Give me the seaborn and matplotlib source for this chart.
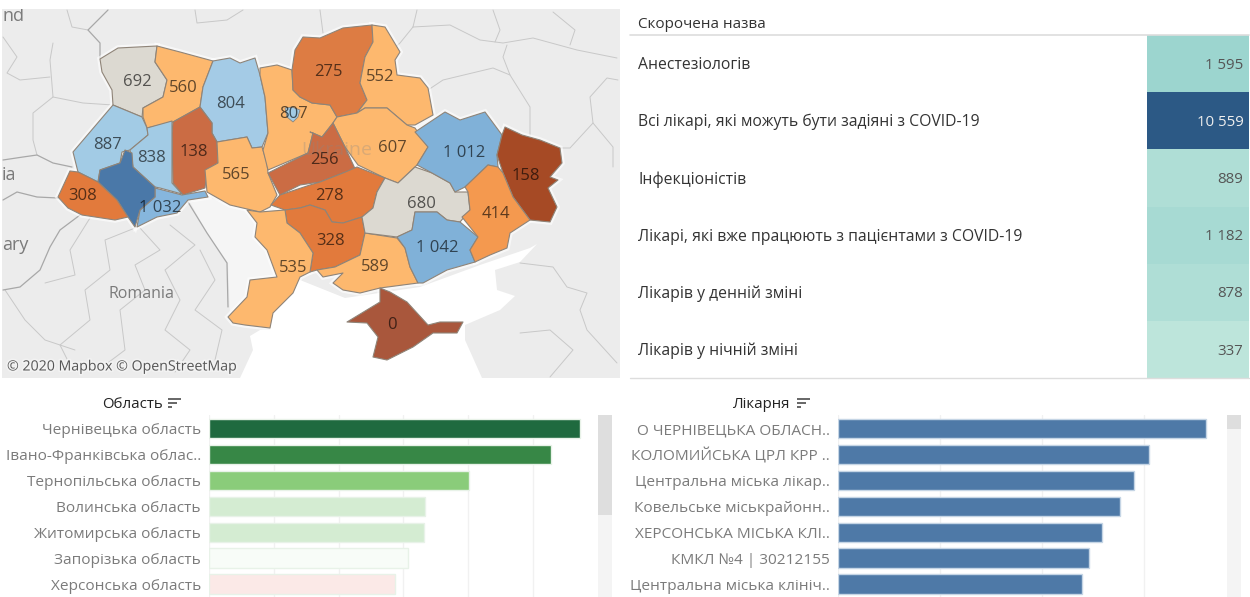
import matplotlib
matplotlib.use("Agg")
import matplotlib.pyplot as plt
import matplotlib.patheffects as pe
from matplotlib.colors import LinearSegmentedColormap
from matplotlib.patches import Polygon, Rectangle
from matplotlib.ticker import MultipleLocator, NullFormatter
import pandas as pd
import seaborn as sns

W, H = 1250, 597
FONT = ["Open Sans", "DejaVu Sans"]

# ---------- data ----------
table_names = ["Анестезіологів", "Всі лікарі, які можуть бути задіяні з COVID-19", "Інфекціоністів",
               "Лікарі, які вже працюють з пацієнтами з COVID-19", "Лікарів у денній зміні", "Лікарів у нічній зміні"]
table_values = [1595, 10559, 889, 1182, 878, 337]

oblast_names = ["Чернівецька область", "Івано-Франківська облас..", "Тернопільська область", "Волинська область",
                "Житомирська область", "Запорізька область", "Херсонська область"]
oblast_values = [5.73, 5.28, 4.02, 3.34, 3.32, 3.07, 2.87]

hospital_names = ["О ЧЕРНІВЕЦЬКА ОБЛАСН..", "КОЛОМИЙСЬКА ЦРЛ КРР ..", "Центральна міська лікар..", "Ковельське міськрайонн..",
                  "ХЕРСОНСЬКА МІСЬКА КЛІ..", "КМКЛ №4 | 30212155", "Центральна міська клініч.."]
hospital_values = [3.61, 3.05, 2.90, 2.76, 2.59, 2.46, 2.39]

map_labels = ["692", "560", "804", "807", "887", "838", "138", "565", "308", "1 032", "275", "552",
              "607", "1 012", "256", "158", "278", "680", "414", "328", "1 042", "535", "589", "0"]

# ---------- styles and geography (image pixel space) ----------
oblast_colours = ["#1f6a3f", "#378746", "#8acc7a", "#d4ecd2", "#d4ecd2", "#f8fcf8", "#fbe9e7"]
table_cmap = LinearSegmentedColormap.from_list(
    "tbl", [(0, "#bde5db"), (0.123, "#9cd5cf"), (1, "#2c5985")])

REGIONS = [
    ("#dcd9d1", "692", (137, 82), [(100,59),(118,48),(157,46),(155,62),(167,80),(163,97),(143,108),(142,117),(113,105),(112,90),(102,72)]),
    ("#fdb86e", "560", (183, 88), [(157,46),(180,52),(213,61),(203,87),(200,107),(173,122),(147,128),(143,117),(143,108),(163,97),(167,80),(155,62)]),
    ("#a4cbe6", "804", (231, 104), [(213,61),(230,58),(240,63),(255,58),(260,75),(265,97),(268,133),(262,147),(252,148),(247,137),(217,142),(212,133),(212,123),(200,107),(203,87)]),
    ("#cb6c44", "138", (194, 152), [(200,107),(212,123),(212,133),(217,142),(218,163),(207,170),(205,188),(183,195),(173,183),(172,133),(173,122)]),
    ("#a2cbe5", "887", (107, 145), [(113,105),(142,117),(147,128),(148,135),(130,150),(122,152),(120,163),(100,170),(98,182),(78,172),(73,152),(90,132)]),
    ("#a2cbe5", "838", (152, 158), [(148,135),(147,128),(172,121),(172,183),(182,194),(160,188),(155,187),(133,167),(130,150)]),
    ("#86b6dd", "1 032", (160, 208), [(155,188),(182,195),(205,191),(208,197),(188,200),(177,213),(157,217),(137,227),(140,210),(155,197)]),
    ("#4a78a8", None, None, [(125,150),(132,153),(133,167),(155,187),(155,197),(140,210),(135,227),(128,217),(117,200),(98,182),(100,170),(120,163)]),
    ("#e27a3c", "308", (83, 196), [(70,171),(78,172),(98,182),(117,200),(128,217),(115,220),(82,215),(68,208),(58,197)]),
    ("#fdb86e", "565", (236, 175), [(217,142),(247,137),(252,148),(262,147),(267,163),(268,173),(277,195),(270,207),(260,212),(230,205),(207,192),(205,170),(218,163)]),
    ("#fdb86e", "807", (294, 114), [(260,68),(277,65),(292,70),(293,90),(300,97),(312,103),(330,105),(337,117),(333,123),(322,137),(310,132),(313,133),(308,153),(268,170),(263,150),(268,133),(265,97),(260,75)]),
    ("#dd7c43", "275", (328, 72), [(303,37),(320,38),(343,28),(372,25),(373,42),(365,57),(360,83),(367,100),(357,113),(337,117),(330,105),(312,103),(300,97),(293,90),(292,70),(295,50)]),
    ("#fdb86e", "552", (380, 77), [(372,25),(385,27),(400,52),(395,60),(397,75),(420,78),(428,88),(433,115),(415,125),(407,125),(387,108),(365,108),(357,113),(367,100),(360,83),(365,57),(373,42)]),
    ("#fdb86e", "607", (392, 148), [(337,117),(357,113),(365,108),(387,108),(407,125),(415,128),(428,147),(417,165),(398,183),(385,178),(358,165),(345,147),(333,123)]),
    ("#cb6c44", "256", (324, 160), [(333,123),(345,147),(357,173),(343,173),(320,182),(300,185),(280,195),(268,173),(308,153),(313,133),(322,137)]),
    ("#e27a3c", "278", (329, 196), [(280,195),(310,185),(320,182),(343,173),(357,167),(385,178),(377,192),(373,208),(362,217),(343,223),(332,222),(325,210),(310,205),(300,208),(285,210),(271,205)]),
    ("#e27a3c", "328", (331, 241), [(285,210),(300,208),(310,205),(325,210),(332,222),(343,223),(362,217),(365,233),(360,255),(335,267),(317,270),(310,272),(313,253),(300,233),(287,223)]),
    ("#fdb86e", "535", (293, 268), [(247,210),(260,212),(285,210),(287,223),(300,233),(313,253),(310,272),(300,277),(293,293),(273,313),(270,328),(245,325),(233,323),(228,317),(247,297),(250,280),(277,277),(267,250),(255,237),(257,223)]),
    ("#fdb86e", "589", (375, 267), [(317,270),(335,267),(360,255),(365,233),(397,238),(405,248),(410,267),(418,283),(380,288),(360,293),(343,290),(333,283),(343,273),(323,277)]),
    ("#dcd9d1", "680", (421, 204), [(398,183),(415,167),(432,173),(450,183),(455,192),(468,192),(470,210),(460,222),(447,220),(437,212),(415,212),(412,230),(397,237),(365,233),(362,217),(373,208),(377,192),(385,178)]),
    ("#80b1d8", "1 042", (437, 248), [(397,237),(412,230),(415,212),(437,212),(447,220),(460,222),(478,237),(470,250),(475,262),(447,270),(423,283),(418,283),(410,267),(405,248)]),
    ("#80b1d8", "1 012", (464, 153), [(415,132),(445,112),(460,120),(485,112),(502,135),(497,155),(498,167),(488,165),(465,187),(455,192),(450,183),(432,173),(417,165),(428,147)]),
    ("#a64a25", "158", (526, 176), [(505,127),(522,135),(540,140),(560,148),(562,163),(550,177),(558,180),(548,188),(557,207),(550,222),(530,220),(513,197),(503,173),(497,155),(502,135)]),
    ("#f4994f", "414", (496, 214), [(488,165),(498,167),(503,173),(513,197),(530,220),(510,233),(507,248),(490,255),(475,262),(470,250),(478,237),(462,217),(470,210),(468,192),(465,187)]),
    ("#a9573c", "0", (392, 325), [(380,288),(390,292),(407,302),(428,325),(440,322),(463,322),(457,333),(433,333),(413,347),(387,360),(373,357),(378,337),(367,323),(347,322),(380,302)]),
]
KYIV_CITY = [(285,108),(292,107),(300,110),(298,117),(293,122),(287,117)]
SEA = [(250,336),(260,330),(270,330),(277,285),(300,280),(345,298),(420,287),(480,265),(530,248),(537,244),(520,262),(495,270),(497,290),(515,296),(500,310),(465,325),(465,340),(482,378),(240,378),(253,350)]
MOLDOVA = [(190,202),(208,197),(230,205),(247,210),(257,223),(255,237),(267,250),(277,277),(250,280),(247,297),(230,315),(228,263),(207,233)]
BORDERS_DARK = [
    [(108,10),(88,30),(100,43),(100,59)],
    [(3,160),(23,157),(37,155),(53,163),(72,167)],
    [(3,200),(17,192),(37,197),(58,198)],
    [(80,215),(60,230),(50,247),(40,270),(20,287),(3,290)],
    [(188,202),(207,233),(227,263),(228,307)],
]
BORDERS_LIGHT = [
    [(428,90),(443,80),(493,68),(510,75),(530,107),(530,135)],
    [(413,27),(400,43),(390,52)],
    [(413,27),(450,25),(480,40),(503,43),(533,38),(577,50),(617,58)],
    [(507,45),(503,57),(510,75)],
    [(560,148),(570,148),(593,123),(590,97),(607,78),(618,80)],
    [(67,10),(72,27),(88,30)],
    [(53,43),(50,60),(53,97),(33,113),(33,140),(37,155)],
    [(3,37),(17,57),(7,73),(20,80),(50,77)],
    [(53,97),(83,103),(113,105)],
    [(195,10),(197,23),(227,20),(243,10)],
    [(320,10),(323,33)],[(417,10),(413,27)],
    [(493,10),(500,30),(495,42)],[(553,12),(575,30),(570,45)],
    [(593,123),(613,147),(613,167)],
    [(520,263),(553,267),(567,287),(587,293),(580,310),(587,330),(617,363)],
    [(520,333),(550,330),(573,350),(550,377)],
    [(90,218),(70,250),(75,275),(45,283)],
    [(135,228),(105,240),(110,270),(85,290),(90,320),(60,345),(70,365)],
    [(140,228),(160,250),(135,265),(145,290),(120,310),(125,350),(105,365)],
    [(170,225),(195,245),(165,270),(180,300),(165,330),(190,350),(175,372)],
    [(200,250),(215,280),(195,310),(222,330),(215,360)],
    [(5,290),(25,320),(45,340),(75,350)],
]

# ---------- figure ----------
sns.set_theme(style="white")
plt.rcParams["font.family"] = FONT
fig = plt.figure(figsize=(W / 100, H / 100), dpi=100, facecolor="white")


def axes_px(x0, y0, x1, y1, **kw):
    return fig.add_axes([x0 / W, 1 - y1 / H, (x1 - x0) / W, (y1 - y0) / H], **kw)


# ---------- map ----------
mp = axes_px(2, 9, 620, 378)
mp.set_xlim(2, 620); mp.set_ylim(378, 9); mp.axis("off")
mp.add_patch(Rectangle((2, 9), 618, 369, fc="#ececec", ec="none", zorder=0))
mp.add_patch(Polygon(MOLDOVA, fc="#f5f5f5", ec="none", zorder=0.5))
mp.add_patch(Polygon(SEA, fc="white", ec="none", zorder=1))
for line in BORDERS_LIGHT:
    mp.plot(*zip(*line), color="#c8c8c8", lw=0.7, zorder=1.5)
for line in BORDERS_DARK:
    mp.plot(*zip(*line), color="#a8a8a8", lw=0.9, zorder=1.5)
for colour, label, pos, outline in REGIONS:
    mp.add_patch(Polygon(outline, fc="white", ec="white", lw=4, alpha=0.6, zorder=2))
for colour, label, pos, outline in REGIONS:
    mp.add_patch(Polygon(outline, fc=colour, ec="#8f8478", lw=0.8, joinstyle="round", zorder=3))
mp.add_patch(Polygon(KYIV_CITY, fc="#a2cbe5", ec="#8f8478", lw=0.6, zorder=3.5))
mp.text(337, 150, "Ukraine", color="#888888", alpha=0.3, fontsize=14, ha="center", va="center", zorder=3.6)
lookup = {r[1]: r[2] for r in REGIONS if r[1]}
for lab in map_labels:
    x, y = lookup[lab]
    mp.text(x, y, lab, color="black", alpha=0.62, fontsize=12, ha="center", va="center", zorder=4)
mp.text(141, 294, "Romania", color="#7a7a7a", fontsize=11.5, ha="center", va="center", zorder=2)
for x, y, s in [(2, 16, "nd"), (2, 175, "ia"), (2, 245, "ary")]:
    mp.text(x, y, s, color="#7a7a7a", fontsize=13, ha="left", va="center", zorder=2, clip_on=True)
mp.text(7, 367, "© 2020 Mapbox © OpenStreetMap", color="#555555", fontsize=10.2, ha="left", va="center", zorder=5,
        path_effects=[pe.withStroke(linewidth=2.5, foreground="#f2f2f2")])

# ---------- table ----------
hm = axes_px(1147, 35, 1249, 378)
table_df = pd.DataFrame({"v": table_values}, index=table_names)
cell_text = [[f"{v:,}".replace(",", " ")] for v in table_values]
sns.heatmap(table_df, ax=hm, cmap=table_cmap, cbar=False, annot=cell_text, fmt="",
            xticklabels=False, yticklabels=False, vmin=min(table_values), vmax=max(table_values))
hm.set_xlabel(""); hm.set_ylabel("")
for t, v in zip(hm.texts, table_values):
    t.set_ha("right"); t.set_x(0.945); t.set_y(t.get_position()[1] + 0.03); t.set_fontsize(10.8)
    t.set_color("#eeeeee" if v > 5000 else "#555555")

ov = axes_px(0, 0, W, H, facecolor="none")
ov.set_xlim(0, W); ov.set_ylim(H, 0); ov.axis("off")
ov.set_zorder(10)
ov.text(638, 25, "Скорочена назва", fontsize=11, color="#333333", va="center")
ov.plot([630, 1249], [34.5, 34.5], color="#dddddd", lw=1.2)
ov.plot([630, 1249], [378, 378], color="#dddddd", lw=1.0)
for i, name in enumerate(table_names):
    ov.text(638, 35 + 57.2 * (i + 0.5) + 1.5, name, fontsize=11.35, color="#333333", va="center")


# ---------- bars ----------
def bars(names, values, px_left, px_right, unit_px, palette, label_x, edge, header, hx):
    ax = axes_px(px_left, 415, px_right, 597)
    df = pd.DataFrame({"name": names, "value": values})
    sns.barplot(df, y="name", x="value", hue="name", palette=palette, legend=False, width=0.75, ax=ax, orient="y",
                linewidth=1, edgecolor=edge, saturation=1)
    ax.set_xlim(0, (px_right - px_left) / unit_px)
    ax.set_ylim(6.5, -0.53)
    ax.set_xlabel(""); ax.set_ylabel("")
    ax.xaxis.set_major_locator(MultipleLocator(1))
    ax.xaxis.set_major_formatter(NullFormatter())
    ax.grid(axis="x", color="#f1f1f1", lw=1)
    ax.set_axisbelow(True)
    ax.tick_params(left=False, bottom=False, length=0, pad=(px_left - label_x) * 0.72)
    for t in ax.get_yticklabels():
        t.set_fontsize(11.1); t.set_color("#7b7b7b")
    sns.despine(ax=ax, left=True, bottom=True, right=True, top=True)
    ov.text(hx, 404, header, fontsize=10.8, color="#222222", va="center", ha="left")
    return ax


a1 = bars(oblast_names, oblast_values, 209, 595, 64.8, oblast_colours, 201, "#e8f2e8", "Область", 102)
a2 = bars(hospital_names, hospital_values, 838, 1222, 102, ["#4e79a7"] * 7, 830, "#c5d5e5", "Лікарня", 733)

# sort icons and scrollbars
for ix in (168, 797):
    for dy, ln in [(0, 13), (4, 9), (8, 4)]:
        ov.plot([ix, ix + ln], [399 + dy, 399 + dy], color="#666666", lw=1.4, solid_capstyle="butt")
for x0, x1, thumb in [(598, 612, 515), (1227, 1241, 429)]:
    ov.add_patch(Rectangle((x0, 415), x1 - x0, 182, fc="#f4f4f4", ec="none"))
    ov.add_patch(Rectangle((x0, 415), x1 - x0, thumb - 415, fc="#dedede", ec="none"))

fig.savefig("out.png", dpi=100)
